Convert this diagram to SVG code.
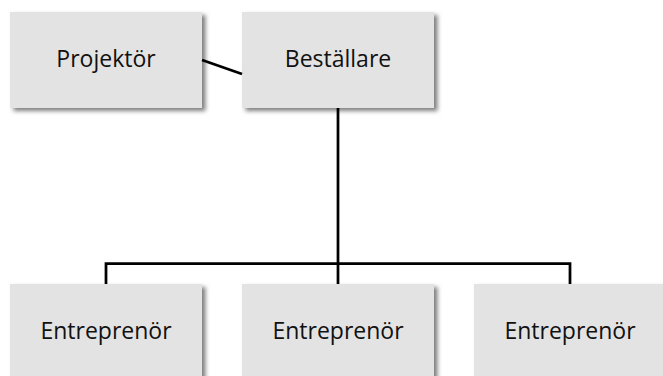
<svg xmlns="http://www.w3.org/2000/svg" width="663" height="376" viewBox="0 0 663 376">
  <defs>
    <filter id="sh" x="-10%" y="-10%" width="125%" height="125%">
      <feDropShadow dx="3.5" dy="3" stdDeviation="2.2" flood-color="#000" flood-opacity="0.5"/>
    </filter>
  </defs>
  <style>
    .box { fill: #e3e3e3; filter: url(#sh); }
    .lbl { font-family: "Open Sans", "Liberation Sans", sans-serif; font-size: 23px; fill: #111; text-anchor: middle; }
    .con { stroke: #000; stroke-width: 2.75; fill: none; }
  </style>
  <rect width="663" height="376" fill="#fff"/>
  <g id="projektor">
    <rect class="box" x="10" y="12" width="192" height="96"/>
    <text class="lbl" x="106" y="67">Projektör</text>
  </g>
  <g id="bestallare">
    <rect class="box" x="242" y="12" width="192" height="96"/>
    <text class="lbl" x="338" y="67">Beställare</text>
  </g>
  <g id="entreprenor1">
    <rect class="box" x="10" y="284" width="192" height="96"/>
    <text class="lbl" x="106" y="339">Entreprenör</text>
  </g>
  <g id="entreprenor2">
    <rect class="box" x="242" y="284" width="192" height="96"/>
    <text class="lbl" x="338" y="339">Entreprenör</text>
  </g>
  <g id="entreprenor3">
    <rect class="box" x="474" y="284" width="192" height="96"/>
    <text class="lbl" x="570" y="339">Entreprenör</text>
  </g>
  <g id="connectors">
    <line class="con" x1="202" y1="60" x2="242" y2="74"/>
    <line class="con" x1="338" y1="108" x2="338" y2="284"/>
    <polyline class="con" points="106,284 106,263.5 570,263.5 570,284"/>
  </g>
</svg>
